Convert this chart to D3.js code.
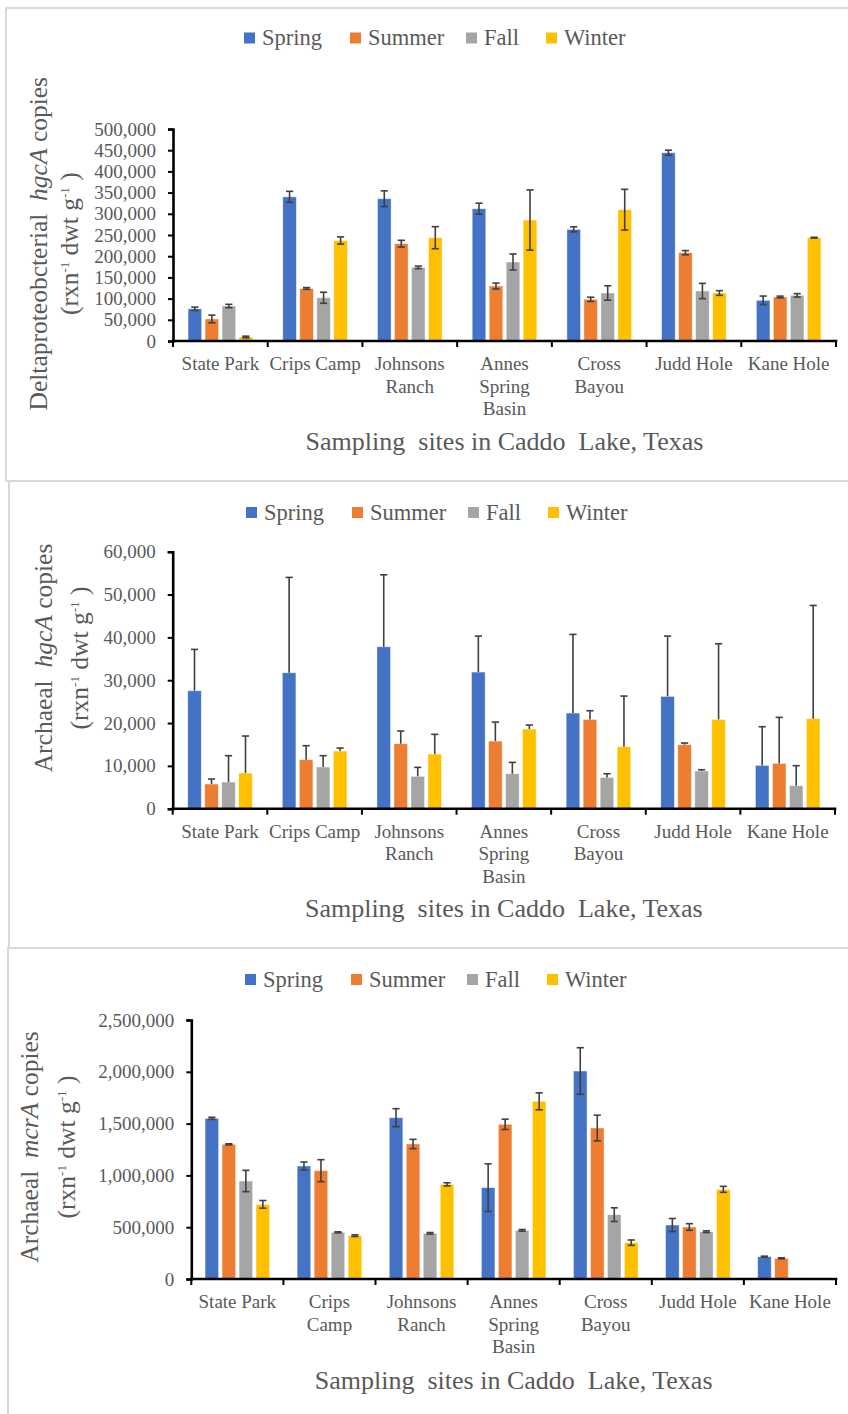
<!DOCTYPE html>
<html>
<head>
<meta charset="utf-8">
<script src="https://cdn.jsdelivr.net/npm/d3@7"></script>
<style>
  html, body { margin: 0; padding: 0; background: #fff; }
  svg { display: block; font-family: "Liberation Serif", "Times New Roman", serif; }
  svg text { font-family: "Liberation Serif", "Times New Roman", serif !important; fill: #595959; white-space: pre; }
</style>
</head>
<body>
<svg id="chart" width="848" height="1414"></svg>
<script>
// Sampling sites and seasons
const sites = ["State Park", "Crips Camp", "Johnsons Ranch", "Annes Spring Basin", "Cross Bayou", "Judd Hole", "Kane Hole"];
const seasons = ["Spring", "Summer", "Fall", "Winter"];
const seasonColors = ["#4472C4", "#ED7D31", "#A5A5A5", "#FFC000"];

// Deltaproteobacterial hgcA copies (rxn-1 dwt g-1), mean per season
const deltaSpring = [76000, 340000, 335600, 312000, 263300, 444000, 96000];
const deltaSummer = [52000, 124000, 229500, 129700, 98300, 208300, 103800];
const deltaFall   = [82500, 102000, 173700, 186300, 113200, 117900, 107700];
const deltaWinter = [9400, 237000, 243600, 285300, 309700, 113200, 243600];
// standard errors
const deltaSpringErr = [4000, 13000, 18500, 13000, 6000, 6000, 10000];
const deltaSummerErr = [9000, 2000, 8000, 7000, 5000, 5000, 2000];
const deltaFallErr   = [4000, 13000, 3000, 19000, 17000, 18000, 4000];
const deltaWinterErr = [2000, 8500, 26000, 71000, 48000, 5500, 1000];
const deltaTicks = [0, 50000, 100000, 150000, 200000, 250000, 300000, 350000, 400000, 450000, 500000];

// Archaeal hgcA copies
const archHgcaSpring = [27540, 31740, 37810, 31900, 22330, 26220, 10110];
const archHgcaSummer = [5760, 11440, 15170, 15790, 20850, 14940, 10580];
const archHgcaFall   = [6220, 9730, 7550, 8170, 7310, 8790, 5370];
const archHgcaWinter = [8330, 13460, 12760, 18590, 14470, 20850, 21010];
const archHgcaSpringErr = [9650, 22260, 16800, 8400, 18360, 14080, 9030];
const archHgcaSummerErr = [1160, 3270, 2960, 4430, 2020, 390, 10740];
const archHgcaFallErr   = [6150, 2650, 2100, 2650, 850, 300, 4670];
const archHgcaWinterErr = [8640, 700, 4600, 940, 11830, 17660, 26450];
const archHgcaTicks = [0, 10000, 20000, 30000, 40000, 50000, 60000];

// Archaeal mcrA copies (Kane Hole fall/winter not detected)
const mcraSpring = [1550800, 1090700, 1557300, 881600, 2007700, 521200, 215600];
const mcraSummer = [1299900, 1045700, 1303100, 1492900, 1457500, 501900, 199500];
const mcraFall   = [945900, 450500, 440800, 469800, 621000, 456900, null];
const mcraWinter = [720700, 418300, 913800, 1714900, 350700, 865500, null];
const mcraSpringErr = [10000, 38600, 86900, 230000, 225000, 63000, 5000];
const mcraSummerErr = [5000, 106000, 45000, 50000, 124000, 32000, 5000];
const mcraFallErr   = [103000, 5000, 8000, 8000, 66000, 8000, null];
const mcraWinterErr = [37000, 8000, 15000, 82000, 26000, 29000, null];
const mcraTicks = [0, 500000, 1000000, 1500000, 2000000, 2500000];

const xTitle = "Sampling  sites in Caddo  Lake, Texas";
const fmt = d3.format(",");
const SERIF = '"Liberation Serif", "Times New Roman", serif';

const svg = d3.select("#chart");

const panels = [
  {
    frame: { x: 6, y: 8, w: 860, h: 473 },
    plot: { left: 173, right: 836, top: 129, bottom: 341 },
    values: [deltaSpring, deltaSummer, deltaFall, deltaWinter],
    errors: [deltaSpringErr, deltaSummerErr, deltaFallErr, deltaWinterErr],
    ticks: deltaTicks, both: true, wrap: 94,
    legend: { x: 244, y: 38 }, labelY: 370, titleY: 450,
    yTitle: { name: "Deltaproteobcterial  ", gene: "hgcA", x1: 46.5, x2: 77.5, cy: 243.7 }
  },
  {
    frame: { x: 9, y: 481, w: 860, h: 467 },
    plot: { left: 172.7, right: 835, top: 551.7, bottom: 808.7 },
    values: [archHgcaSpring, archHgcaSummer, archHgcaFall, archHgcaWinter],
    errors: [archHgcaSpringErr, archHgcaSummerErr, archHgcaFallErr, archHgcaWinterErr],
    ticks: archHgcaTicks, both: false, wrap: 94,
    legend: { x: 246, y: 512.5 }, labelY: 837.5, titleY: 917,
    yTitle: { name: "Archaeal  ", gene: "hgcA", x1: 51.5, x2: 87.5, cy: 658 }
  },
  {
    frame: { x: 8, y: 948, w: 860, h: 480 },
    plot: { left: 191.3, right: 836, top: 1020, bottom: 1279 },
    values: [mcraSpring, mcraSummer, mcraFall, mcraWinter],
    errors: [mcraSpringErr, mcraSummerErr, mcraFallErr, mcraWinterErr],
    ticks: mcraTicks, both: true, wrap: 88,
    legend: { x: 245, y: 979.5 }, labelY: 1308, titleY: 1388.5,
    yTitle: { name: "Archaeal  ", gene: "mcrA", x1: 38, x2: 74.5, cy: 1147 }
  }
];

// horizontal offsets of the four legend entries
const legendOffsets = [0, 106, 222, 302];

function wrapWords(label, maxWidth, probe) {
  const words = label.split(" ");
  const lines = [];
  let line = words[0];
  for (let i = 1; i < words.length; i++) {
    const test = line + " " + words[i];
    probe.text(test);
    if (probe.node().getComputedTextLength() > maxWidth) {
      lines.push(line);
      line = words[i];
    } else {
      line = test;
    }
  }
  lines.push(line);
  return lines;
}

panels.forEach(p => {
  const g = svg.append("g").attr("font-family", SERIF);

  // panel frame
  g.append("rect")
    .attr("x", p.frame.x).attr("y", p.frame.y)
    .attr("width", p.frame.w).attr("height", p.frame.h)
    .attr("fill", "none").attr("stroke", "#d9d9d9").attr("stroke-width", 2);

  const x0 = d3.scaleBand().domain(sites).range([p.plot.left, p.plot.right]).padding(0);
  const bw = x0.bandwidth();
  const groupW = 68;
  const x1 = d3.scaleBand().domain(seasons)
    .range([(bw - groupW) / 2, (bw + groupW) / 2])
    .paddingInner(0.2).paddingOuter(0.1);
  const y = d3.scaleLinear()
    .domain([0, p.ticks[p.ticks.length - 1]])
    .range([p.plot.bottom, p.plot.top]);

  // bars
  const rows = [];
  seasons.forEach((s, si) => {
    sites.forEach((site, ci) => {
      const v = p.values[si][ci];
      if (v == null) return;
      rows.push({ site, season: s, si, v, e: p.errors[si][ci] || 0 });
    });
  });

  g.append("g").selectAll("rect").data(rows).join("rect")
    .attr("x", d => x0(d.site) + x1(d.season))
    .attr("width", x1.bandwidth())
    .attr("y", d => y(d.v))
    .attr("height", d => y(0) - y(d.v))
    .attr("fill", d => seasonColors[d.si])
    .attr("stroke", "#ffffff").attr("stroke-opacity", 0.55).attr("stroke-width", 0.8);

  // error bars
  const eg = g.append("g").attr("stroke", "#404040").attr("stroke-width", 1.6).attr("fill", "none");
  rows.forEach(d => {
    const cx = x0(d.site) + x1(d.season) + x1.bandwidth() / 2;
    const hi = y(d.v + d.e);
    const lo = p.both ? y(d.v - d.e) : y(d.v);
    const cap = 3.6;
    eg.append("line").attr("x1", cx).attr("x2", cx).attr("y1", hi).attr("y2", lo);
    eg.append("line").attr("x1", cx - cap).attr("x2", cx + cap).attr("y1", hi).attr("y2", hi);
    if (p.both) {
      eg.append("line").attr("x1", cx - cap).attr("x2", cx + cap).attr("y1", lo).attr("y2", lo);
    }
  });

  // y axis
  const yAxis = d3.axisLeft(y).tickValues(p.ticks).tickFormat(fmt).tickSize(5).tickPadding(12);
  const ya = g.append("g").attr("transform", `translate(${p.plot.left},0)`).call(yAxis)
    .attr("font-family", SERIF).attr("font-size", 19);
  ya.select(".domain").attr("stroke", "#000").attr("stroke-width", 2.6);
  ya.selectAll(".tick line").attr("stroke", "#000").attr("stroke-width", 2);
  ya.selectAll(".tick text")
    .attr("fill", "#595959").style("font-family", SERIF).style("font-size", "19px");

  // x axis line with category boundary ticks
  const bounds = sites.map(s => x0(s)).concat([p.plot.right]);
  const xa = g.append("g");
  xa.append("line")
    .attr("x1", p.plot.left - 1.3).attr("x2", p.plot.right + 1.3)
    .attr("y1", y(0)).attr("y2", y(0))
    .attr("stroke", "#000").attr("stroke-width", 2.6);
  xa.selectAll("line.sep").data(bounds).join("line")
    .attr("class", "sep")
    .attr("x1", d => d).attr("x2", d => d)
    .attr("y1", y(0)).attr("y2", y(0) + 6)
    .attr("stroke", "#000").attr("stroke-width", 2);

  // category labels
  const probe = g.append("text").style("font-family", SERIF).style("font-size", "19px").attr("opacity", 0);
  sites.forEach(site => {
    const lines = wrapWords(site, p.wrap, probe);
    const t = g.append("text")
      .attr("text-anchor", "middle")
      .style("font-family", SERIF)
      .style("font-size", "19px")
      .attr("x", x0(site) + bw / 2)
      .attr("y", p.labelY);
    lines.forEach((ln, i) => {
      t.append("tspan").attr("x", x0(site) + bw / 2).attr("dy", i === 0 ? 0 : 22.5).text(ln);
    });
  });
  probe.remove();

  // x axis title
  g.append("text")
    .attr("text-anchor", "middle")
    .attr("x", (p.plot.left + p.plot.right) / 2)
    .attr("y", p.titleY)
    .style("font-family", SERIF)
    .style("font-size", "26px")
    .text(xTitle);

  // y axis title (two lines)
  const t1 = g.append("text")
    .attr("text-anchor", "middle")
    .attr("transform", `translate(${p.yTitle.x1},${p.yTitle.cy}) rotate(-90)`)
    .style("font-family", SERIF)
    .style("font-size", "25.5px");
  t1.append("tspan").text(p.yTitle.name);
  t1.append("tspan").style("font-style", "italic").text(p.yTitle.gene);
  t1.append("tspan").text(" copies");

  const t2 = g.append("text")
    .attr("text-anchor", "middle")
    .attr("transform", `translate(${p.yTitle.x2},${p.yTitle.cy}) rotate(-90)`)
    .style("font-family", SERIF)
    .style("font-size", "25.5px");
  t2.append("tspan").text("(rxn");
  t2.append("tspan").attr("dy", -9).style("font-size", "13px").text("-1");
  t2.append("tspan").attr("dy", 9).text(" dwt g");
  t2.append("tspan").attr("dy", -9).style("font-size", "13px").text("-1");
  t2.append("tspan").attr("dy", 9).text(" )");

  // legend
  const lg = g.append("g");
  seasons.forEach((s, i) => {
    const lx = p.legend.x + legendOffsets[i];
    lg.append("rect")
      .attr("x", lx).attr("y", p.legend.y - 5.5)
      .attr("width", 11).attr("height", 11)
      .attr("fill", seasonColors[i]);
    lg.append("text")
      .attr("x", lx + 18).attr("y", p.legend.y + 7.3)
      .style("font-family", SERIF)
      .style("font-size", "22.5px")
      .text(s);
  });
});
</script>
</body>
</html>
